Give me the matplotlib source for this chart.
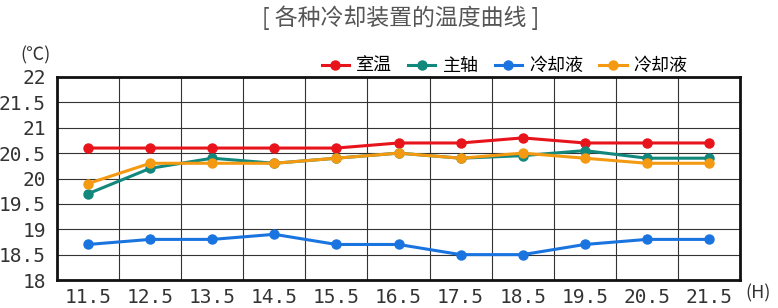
import matplotlib.pyplot as plt
import numpy as np

plt.rcParams['font.family'] = ['Noto Sans CJK SC', 'DejaVu Sans']

hours = ['11.5', '12.5', '13.5', '14.5', '15.5', '16.5', '17.5', '18.5', '19.5', '20.5', '21.5']
room = [20.6, 20.6, 20.6, 20.6, 20.6, 20.7, 20.7, 20.8, 20.7, 20.7, 20.7]
spindle = [19.7, 20.2, 20.4, 20.3, 20.4, 20.5, 20.4, 20.45, 20.55, 20.4, 20.4]
coolant_a = [18.7, 18.8, 18.8, 18.9, 18.7, 18.7, 18.5, 18.5, 18.7, 18.8, 18.8]
coolant_b = [19.9, 20.3, 20.3, 20.3, 20.4, 20.5, 20.4, 20.5, 20.4, 20.3, 20.3]
y_ticks = [18, 18.5, 19, 19.5, 20, 20.5, 21, 21.5, 22]

fig = plt.figure(figsize=(7.78, 3.08), dpi=100)
ax = fig.add_axes([57 / 778, 1 - 280 / 308, 683 / 778, 203 / 308])

x = np.arange(len(hours))
series = [
    (room, '室温', '#e8141b'),
    (spindle, '主轴', '#12877c'),
    (coolant_a, '冷却液', '#1a74e0'),
    (coolant_b, '冷却液', '#f39a12'),
]
for vals, name, col in series:
    ax.plot(x, vals, color=col, lw=2.2, marker='o', ms=6.5, label=name)

ax.set_xlim(-0.5, len(hours) - 0.5)
ax.set_ylim(18, 22)
ax.set_xticks(x)
ax.set_xticklabels(hours)
ax.set_xticks(x[:-1] + 0.5, minor=True)
ax.set_yticks(y_ticks)
ax.set_yticklabels([f'{v:g}' for v in y_ticks])
ax.grid(True, which='minor', axis='x', color='#333333', lw=0.8)
ax.grid(True, which='major', axis='y', color='#333333', lw=0.8)
ax.tick_params(which='both', length=0)
ax.tick_params(axis='x', pad=6)
ax.tick_params(axis='y', pad=8)
for lab in ax.get_xticklabels() + ax.get_yticklabels():
    lab.set_family('DejaVu Sans Mono')
    lab.set_fontsize(14)
    lab.set_color('#333333')
for s in ax.spines.values():
    s.set_linewidth(2)
    s.set_color('#111111')

fig.text(401 / 778, 1 - 18 / 308, '[ 各种冷却装置的温度曲线 ]', ha='center', va='center',
         fontsize=16.5, color='#555555')
fig.text(36 / 778, 1 - 55 / 308, '(℃)', ha='center', va='center', fontsize=13, color='#333333')
fig.text(758 / 778, 1 - 293 / 308, '(H)', ha='center', va='center', fontsize=13, color='#333333')

ax.legend(loc='lower right', bbox_to_anchor=(638 / 683, 0.975), ncol=4, frameon=False,
          fontsize=13, handlelength=1.5, handletextpad=0.4, columnspacing=0.9,
          borderaxespad=0.0)

plt.savefig('out.png', dpi=100)
plt.close()
